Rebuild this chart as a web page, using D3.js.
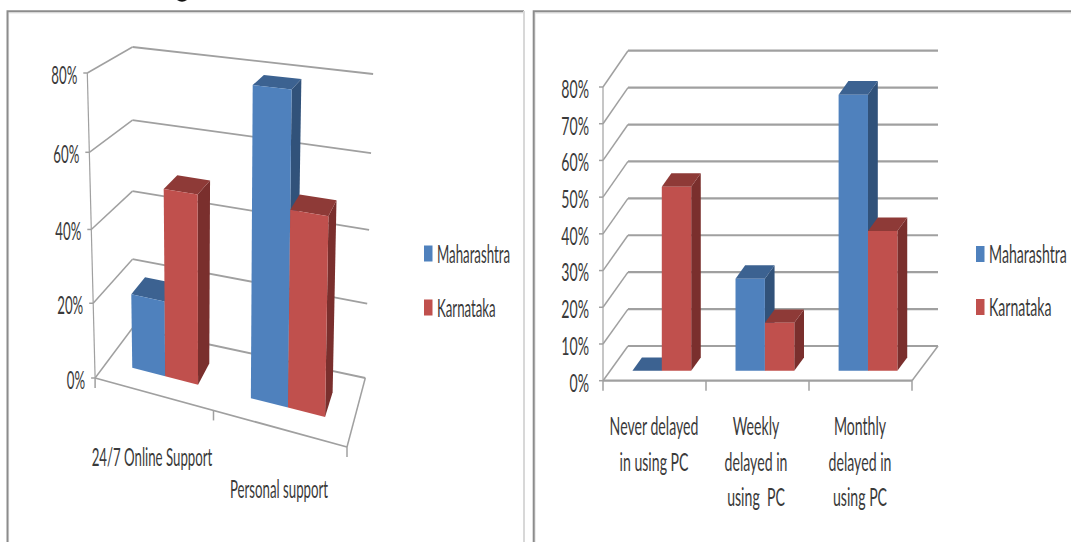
<!DOCTYPE html>
<html>
<head>
<meta charset="utf-8">
<script src="https://cdn.jsdelivr.net/npm/d3@7/dist/d3.min.js"></script>
<style>
  html, body { margin: 0; padding: 0; background: #fff; overflow: hidden; }
  svg { display: block; }
  text { font-family: Lato, "Noto Sans", sans-serif; fill: #3a3a3a; white-space: pre; }
</style>
</head>
<body>
<svg id="page" width="1071" height="542"></svg>
<script>
// Chart data
const seriesNames = ["Maharashtra", "Karnataka"];

const supportCategories = ["24/7 Online Support", "Personal support"];
const supportMaharashtra = [20, 79];
const supportKarnataka = [50, 50];
const supportTicks = [0, 20, 40, 60, 80];

const delayCategories = [
  ["Never delayed", "in using PC"],
  ["Weekly", "delayed in", "using  PC"],
  ["Monthly", "delayed in", "using PC"]
];
const delayMaharashtra = [0, 25, 75];
const delayKarnataka = [50, 13, 38];
const delayTicks = [0, 10, 20, 30, 40, 50, 60, 70, 80];

// Series colours: front face, top face, side face
const faces = [
  { front: "#4f81bd", top: "#3c6291", side: "#31527a" },
  { front: "#c0504d", top: "#8e3a37", side: "#7a2f2d" }
];
const gridColor = "#a0a0a0";
const svg = d3.select("#page");

// Builds a box projection from the eight corners of the plot volume.
// u runs left to right, d front to back, h floor to ceiling; all in 0..1.
function boxProjection(c) {
  const mix = (a, b, t) => [a[0] + (b[0] - a[0]) * t, a[1] + (b[1] - a[1]) * t];
  return (u, d, h) => {
    const floor = mix(mix(c.fl0, c.fr0, u), mix(c.bl0, c.br0, u), d);
    const ceil = mix(mix(c.fl1, c.fr1, u), mix(c.bl1, c.br1, u), d);
    return mix(floor, ceil, h);
  };
}

function squeezedText(g, x, y, str, anchor, sx) {
  g.append("text")
    .attr("transform", `translate(${x},${y}) scale(${sx},1)`)
    .attr("text-anchor", anchor)
    .attr("dominant-baseline", "central")
    .attr("font-size", 25)
    .text(str);
}

function drawChart(opt) {
  const g = svg.append("g");
  const project = boxProjection(opt.corners);
  const y = d3.scaleLinear().domain(opt.ticks).range(opt.heights);
  const n = opt.categories.length;
  // Category edges along the floor; the piecewise range absorbs foreshortening
  const uScale = d3.scaleLinear().domain(d3.range(n + 1)).range(opt.edges);
  const line = d3.line();
  const grid = (pts, w) => g.append("path").attr("d", line(pts)).attr("fill", "none")
    .attr("stroke", gridColor).attr("stroke-width", w).attr("stroke-linejoin", "round");

  // Walls: one bent line per value tick
  opt.ticks.forEach(t => {
    const h = y(t);
    grid([project(0, 0, h), project(0, 1, h)], opt.wallWidth);
    grid([project(0, 1, h), project(1, 1, h)], opt.gridWidth);
    const p = project(0, 0, h);
    grid([[p[0] - 4, p[1]], p], 1.5);
    squeezedText(g, opt.labelX(p), p[1] + opt.labelDy, t + "%", "end", opt.squeeze);
  });
  // Floor outline and front axis
  grid([project(1, 1, 0), project(1, 0, 0)], opt.wallWidth);
  grid([project(1, 0, 0), project(0, 0, 0)], opt.gridWidth);
  grid([project(0, 0, 0), project(0, 0, 1)], 1.2);
  d3.range(n + 1).forEach(i => {
    const p = project(uScale(i), 0, 0);
    grid([p, [p[0], p[1] + 10]], 1.5);
  });

  // Bars: groups left to right, blue before red so red overlaps
  const band = d3.scaleBand().domain(seriesNames).range([0.215, 0.785]);
  const d0 = opt.depth[0], d1 = opt.depth[1];
  const poly = (pts, fill) => g.append("polygon").attr("points", pts.join(" ")).attr("fill", fill);
  opt.categories.forEach((cat, i) => {
    seriesNames.forEach((name, s) => {
      const v = opt.series[s][i];
      const edge = t => uScale(i + t);
      const u0 = edge(band(name)), u1 = edge(band(name) + band.bandwidth());
      const h = y(v);
      const f = faces[s];
      poly([project(u1, d0, 0), project(u1, d1, 0), project(u1, d1, h), project(u1, d0, h)], f.side);
      poly([project(u0, d0, h), project(u1, d0, h), project(u1, d1, h), project(u0, d1, h)], f.top);
      poly([project(u0, d0, 0), project(u1, d0, 0), project(u1, d0, h), project(u0, d0, h)], f.front);
    });
  });

  // Category labels
  opt.categories.forEach((cat, i) => {
    const lines = Array.isArray(cat) ? cat : [cat];
    const pos = opt.catPos[i];
    lines.forEach((l, k) => squeezedText(g, pos[0], pos[1] + k * opt.catLead, l, "middle", opt.squeeze));
  });

  // Legend
  seriesNames.forEach((name, s) => {
    g.append("rect").attr("x", opt.legendX).attr("y", opt.legendY[s] - 7.5)
      .attr("width", 8.5).attr("height", 16).attr("fill", faces[s].front);
    squeezedText(g, opt.legendX + 13, opt.legendY[s], name, "start", opt.squeeze);
  });
}

// Panel frames, with the faint shadow each rule carries
function frame(pts, color, w) {
  svg.append("path").attr("d", d3.line()(pts)).attr("fill", "none")
    .attr("stroke", color).attr("stroke-width", w);
}
frame([[8.5, 542], [8.5, 13], [523, 13]], "#eeeeee", 1.5);
frame([[7.5, 542], [7.5, 11.3], [524, 11.3]], "#8c8c8c", 2);
frame([[524, 11], [524, 542]], "#d8d8d8", 2);
frame([[535, 542], [535, 13], [1071, 13]], "#e6e6e6", 1.5);
frame([[533.7, 542], [533.7, 11.3], [1071, 11.3]], "#8c8c8c", 2);

// Small dark tail left above the left panel by the page edge
svg.append("path").attr("d", "M177,0 Q182,3.5 187,0 Z").attr("fill", "#111");

// Perspective chart
drawChart({
  categories: supportCategories,
  series: [supportMaharashtra, supportKarnataka],
  ticks: supportTicks,
  heights: [0, 0.245, 0.487, 0.74, 1],
  corners: {
    fl0: [95.1, 378], bl0: [132.5, 328], br0: [365.3, 378], fr0: [347, 447],
    fl1: [87.3, 73], bl1: [132.5, 47], br1: [373.1, 74], fr1: [353.5, 102]
  },
  edges: [0, 0.47, 1],
  depth: [0.33, 0.7],
  gridWidth: 1.8,
  wallWidth: 1.5,
  squeeze: 0.53,
  labelX: p => p[0] - 10,
  labelDy: 1,
  catPos: [[152, 456.5], [279, 488.5]],
  catLead: 0,
  legendX: 424,
  legendY: [253, 307]
});

// Oblique chart
drawChart({
  categories: delayCategories,
  series: [delayMaharashtra, delayKarnataka],
  ticks: delayTicks,
  heights: delayTicks.map(t => t / 80),
  corners: {
    fl0: [603, 380.7], bl0: [628, 346], br0: [938, 346], fr0: [912, 380.7],
    fl1: [603, 87], bl1: [628, 50.7], br1: [938, 50.7], fr1: [912, 87]
  },
  edges: [0, 1 / 3, 2 / 3, 1],
  depth: [0.29, 0.67],
  gridWidth: 2.2,
  wallWidth: 1.5,
  squeeze: 0.565,
  labelX: p => 589,
  labelDy: 1,
  catPos: [[654, 425.5], [756, 425.5], [860, 425.5]],
  catLead: 35.2,
  legendX: 976,
  legendY: [253.5, 306.5]
});
</script>
</body>
</html>
